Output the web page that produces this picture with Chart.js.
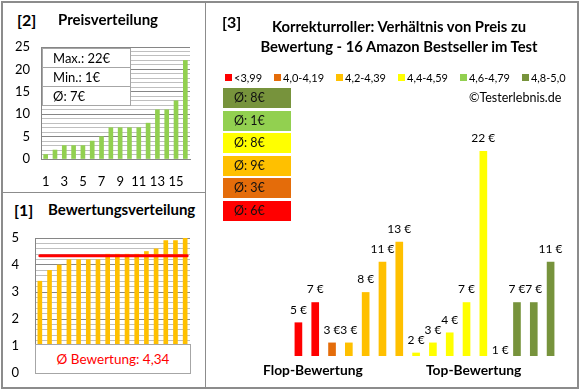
<!DOCTYPE html>
<html>
<head>
<meta charset="utf-8">
<script src="https://cdn.jsdelivr.net/npm/chart.js@4.4.0/dist/chart.umd.min.js"></script>
<style>
  body { margin: 0; background: #fff; font-family: Lato, "Open Sans", sans-serif; color: #000; }
  #page { position: relative; width: 580px; height: 390px; overflow: hidden; }
  canvas { position: absolute; z-index: 1; }
  .abs { position: absolute; white-space: nowrap; z-index: 2; }
  .frame { position: absolute; left: 1px; top: 1px; width: 574px; height: 384px; border: 2px solid #8c8c8c; }
  .vline { position: absolute; left: 205px; top: 1px; width: 1px; height: 387px; background: #8c8c8c; }
  .hline { position: absolute; left: 1px; top: 192px; width: 205px; height: 1px; background: #8c8c8c; }
  .num { font-weight: bold; font-size: 16px; }
  .ttl { font-weight: bold; font-size: 15px; }
  #stats { position: absolute; z-index: 2; left: 42px; top: 48px; width: 87px; background: #fff; border: 1px solid #a6a6a6; }
  #stats div { height: 18px; line-height: 18px; padding-left: 10px; font-size: 13px; border-top: 1px solid #a6a6a6; }
  #stats div:first-child { border-top: none; }
  #avgRating { position: absolute; z-index: 2; left: 35px; top: 344px; width: 154px; height: 28px; background: #fff;
    border: 1px solid #a6a6a6; color: #ff0000; font-size: 13.5px; text-align: center; line-height: 28px; }
  #legend { position: absolute; z-index: 2; left: 225px; top: 71px; display: flex; font-size: 11px; }
  #legend span.item { display: flex; align-items: center; margin-right: 12px; }
  #legend i { display: inline-block; width: 7px; height: 7px; margin-right: 2px; }
  #avgBoxes { position: absolute; z-index: 2; left: 223px; top: 88px; width: 68px; }
  #avgBoxes div { height: 20px; line-height: 20px; margin-bottom: 2.6px; padding-left: 11px; font-size: 12.5px; color: #111; }
</style>
</head>
<body>
<div id="page">
  <div class="frame"></div>
  <div class="vline"></div>
  <div class="hline"></div>

  <canvas id="priceChart" width="200" height="165" style="left:0;top:30px"></canvas>
  <canvas id="ratingChart" width="200" height="165" style="left:0;top:225px"></canvas>
  <canvas id="ratioChart" width="370" height="285" style="left:206px;top:100px"></canvas>

  <div class="abs num" style="left:17px;top:10px">[2]</div>
  <div class="abs ttl" style="left:58px;top:10px">Preisverteilung</div>
  <div id="stats"></div>

  <div class="abs num" style="left:14px;top:200px">[1]</div>
  <div class="abs ttl" style="left:48px;top:200px">Bewertungsverteilung</div>
  <div id="avgRating"></div>

  <div class="abs num" style="left:222px;top:12px">[3]</div>
  <div class="abs ttl" style="left:206px;width:386px;top:16px;text-align:center;line-height:20px;font-size:14.8px">Korrekturroller: Verhältnis von Preis zu<br>Bewertung - 16 Amazon Bestseller im Test</div>
  <div id="legend"></div>
  <div class="abs" style="left:469px;top:90px;font-size:12.5px">©Testerlebnis.de</div>
  <div id="avgBoxes"></div>
  <div class="abs ttl" style="left:263px;top:361px;font-size:13.8px">Flop-Bewertung</div>
  <div class="abs ttl" style="left:426px;top:361px;font-size:13.8px">Top-Bewertung</div>
</div>

<script>
// ranks 1..16 for the left charts
const rankLabels = ['1','2','3','4','5','6','7','8','9','10','11','12','13','14','15','16'];
const sortedPrices = [1, 2, 3, 3, 3, 4, 5, 7, 7, 7, 7, 8, 11, 11, 13, 22];
const sortedRatings = [3.4, 3.8, 4.0, 4.2, 4.2, 4.2, 4.2, 4.4, 4.4, 4.4, 4.4, 4.5, 4.6, 4.9, 4.9, 5.0];
const avgRating = 4.34;

const statLabels = ['Max.:', 'Min.:', 'Ø:'];
const statValues = [22, 1, 7];

// products sorted by rating, price in euro and rating group index
const productPrices = [5, 7, 3, 3, 8, 11, 13, 2, 3, 4, 7, 22, 1, 7, 7, 11];
const productGroups = [0, 0, 1, 2, 2, 2, 2, 3, 3, 3, 3, 3, 4, 5, 5, 5];

const groupLabels = ['<3,99', '4,0-4,19', '4,2-4,39', '4,4-4,59', '4,6-4,79', '4,8-5,0'];
const groupAverages = [6, 3, 9, 8, 1, 8];
const groupColors = ['#ff0000', '#e46c0a', '#ffc000', '#ffff00', '#92d050', '#77933c'];

const FONT = 'Lato';

// html boxes
document.getElementById('stats').innerHTML =
    statLabels.map((l, i) => `<div>${l} ${statValues[i]}€</div>`).join('');
document.getElementById('avgRating').textContent = 'Ø Bewertung: ' + avgRating.toFixed(2).replace('.', ',');
document.getElementById('legend').innerHTML =
    groupLabels.map((l, i) => `<span class="item"><i style="background:${groupColors[i]}"></i>${l}</span>`).join('');
document.getElementById('avgBoxes').innerHTML =
    groupAverages.map((a, i) => `<div style="background:${groupColors[i]}">Ø: ${a}€</div>`).reverse().join('');

const isWhole = v => Math.abs(v - Math.round(v)) < 1e-6;

// keep the plot area exactly where the layout padding puts it
const fixY = w => s => { s.width = w; s.paddingTop = 0; s.paddingBottom = 0; };
const fixX = h => s => { s.height = h; s.paddingLeft = 0; s.paddingRight = 0; };

// [2] Preisverteilung
new Chart(document.getElementById('priceChart'), {
    type: 'bar',
    data: {
        labels: rankLabels,
        datasets: [{ data: sortedPrices, backgroundColor: '#92d050', barThickness: 4 }]
    },
    options: {
        responsive: false, animation: false, devicePixelRatio: 1,
        plugins: { legend: { display: false }, tooltip: { enabled: false } },
        layout: { padding: { left: 0, right: 10, top: 17, bottom: 0 } },
        scales: {
            x: {
                grid: { display: false, drawTicks: false },
                border: { color: '#868686' },
                ticks: {
                    autoSkip: false, maxRotation: 0, padding: 15, color: '#000',
                    font: { family: FONT, size: 13 },
                    callback: (v, i) => i % 2 === 0 ? rankLabels[i] : ''
                },
                afterFit: fixX(36)
            },
            y: {
                min: 0, max: 25,
                ticks: {
                    stepSize: 1, autoSkip: false, padding: 11, color: '#000',
                    font: { family: FONT, size: 13 },
                    callback: v => v % 5 === 0 ? String(v) : ''
                },
                grid: { drawTicks: false, color: c => c.tick && c.tick.value % 5 === 0 ? '#868686' : '#bfbfbf' },
                border: { color: '#868686' },
                afterFit: fixY(41)
            }
        }
    }
});

// average line on the rating chart
const avgLinePlugin = {
    id: 'avgLine',
    afterDatasetsDraw(chart) {
        const { ctx, scales: { x, y } } = chart;
        const py = y.getPixelForValue(avgRating);
        ctx.save();
        ctx.strokeStyle = '#ff0000';
        ctx.lineWidth = 3;
        ctx.lineCap = 'round';
        ctx.beginPath();
        ctx.moveTo(x.getPixelForValue(0), py);
        ctx.lineTo(x.getPixelForValue(sortedRatings.length - 1) + 2, py);
        ctx.stroke();
        ctx.restore();
    }
};

// [1] Bewertungsverteilung
new Chart(document.getElementById('ratingChart'), {
    type: 'bar',
    data: {
        labels: rankLabels,
        datasets: [{ data: sortedRatings, backgroundColor: '#ffc000', barThickness: 4 }]
    },
    plugins: [avgLinePlugin],
    options: {
        responsive: false, animation: false, devicePixelRatio: 1,
        plugins: { legend: { display: false }, tooltip: { enabled: false } },
        layout: { padding: { left: 0, right: 10, top: 13, bottom: 17 } },
        scales: {
            x: {
                grid: { display: false, drawTicks: false },
                border: { color: '#868686' },
                ticks: { display: false },
                afterFit: fixX(0)
            },
            y: {
                min: 0, max: 5,
                ticks: {
                    stepSize: 0.2, autoSkip: false, padding: 16, color: '#000',
                    font: { family: FONT, size: 13 },
                    callback: v => isWhole(v) ? String(Math.round(v)) : ''
                },
                grid: { drawTicks: false, color: c => c.tick && isWhole(c.tick.value) ? '#868686' : '#bfbfbf' },
                border: { color: '#868686' },
                afterFit: fixY(35)
            }
        }
    }
});

// price labels above the bars
const priceLabelPlugin = {
    id: 'priceLabels',
    afterDatasetsDraw(chart) {
        const { ctx, chartArea, scales: { y } } = chart;
        const meta = chart.getDatasetMeta(0);
        ctx.save();
        ctx.fillStyle = '#000';
        ctx.font = '12px ' + FONT;
        ctx.textAlign = 'center';
        ctx.textBaseline = 'middle';
        meta.data.forEach((bar, i) => {
            const v = productPrices[i];
            const ty = v < y.min ? chartArea.bottom - 6 : bar.y - 13;
            ctx.fillText(v + ' €', bar.x, ty);
        });
        ctx.restore();
    }
};

// [3] Preis / Bewertung
new Chart(document.getElementById('ratioChart'), {
    type: 'bar',
    data: {
        labels: rankLabels,
        datasets: [{
            data: productPrices,
            backgroundColor: productGroups.map(g => groupColors[g]),
            barThickness: 7,
            clip: 0
        }]
    },
    plugins: [priceLabelPlugin],
    options: {
        responsive: false, animation: false, devicePixelRatio: 1,
        plugins: { legend: { display: false }, tooltip: { enabled: false } },
        layout: { padding: { left: 84, right: 17, top: 21, bottom: 29 } },
        scales: {
            x: { display: false },
            y: { display: false, min: 1.7, max: 25 }
        }
    }
});
</script>
</body>
</html>
